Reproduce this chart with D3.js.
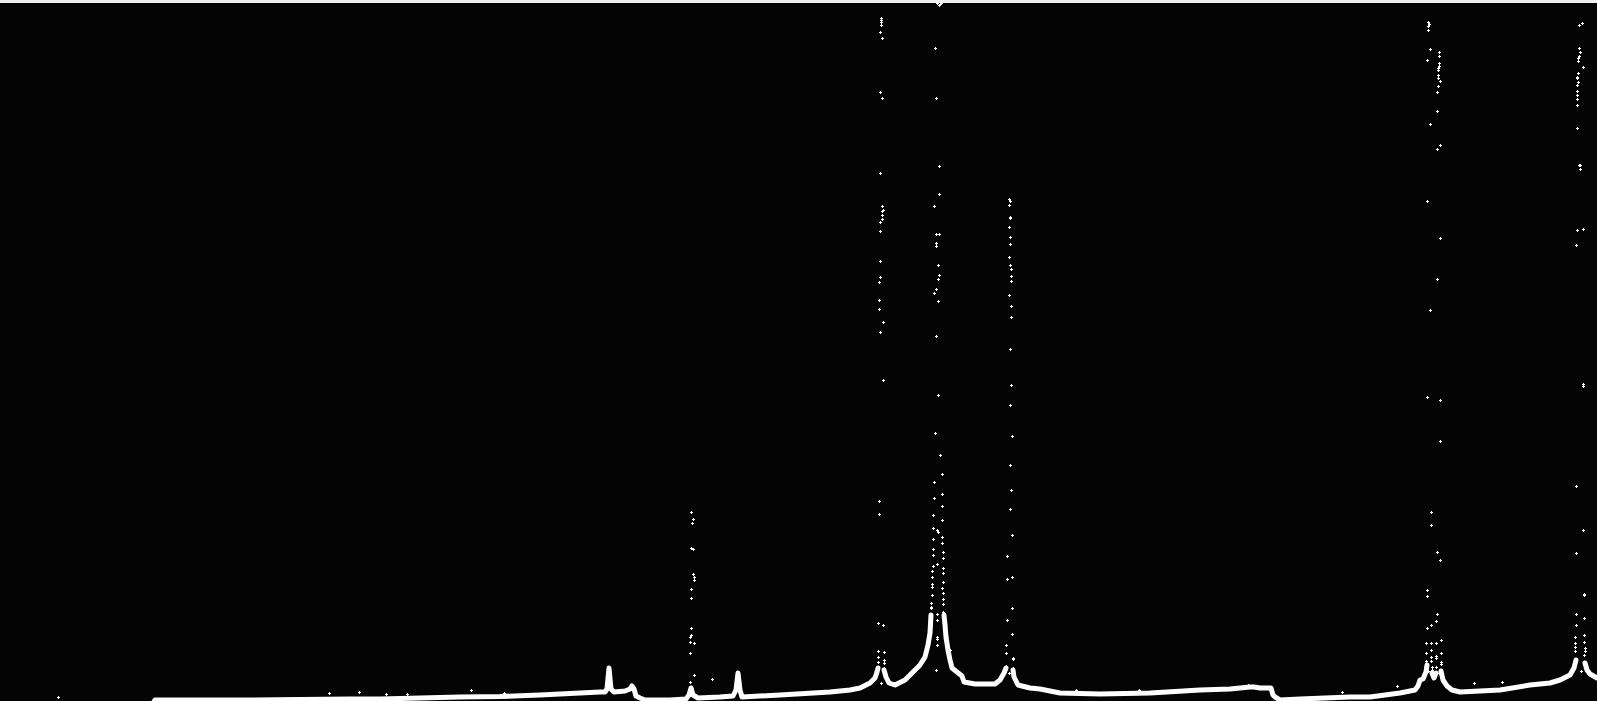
<!DOCTYPE html>
<html>
<head>
<meta charset="utf-8">
<script src="https://cdn.jsdelivr.net/npm/d3@7"></script>
<style>
  html, body { margin: 0; padding: 0; background: #efefef; overflow: hidden; }
  svg { display: block; }
</style>
</head>
<body>
<svg id="chart" width="1597" height="701"></svg>
<script>
// Continuous background trace (channel, counts); null = gap in the trace
const baseChannel = [0,150,155,200,250,300,350,380,420,460,500,540,560,580,600,605,607,609,611,614,625,630,632,634,636,640,645,670,686,689,691,693,698,720,733,736,738,740,742,780,830,850,860,870,875,877,878,880,
  884,886,889,895,905,915,920,925,928,930,931,938,
  944,945,946,948,950,952,962,964,975,995,1000,1004,1006,1010,
  1013,1014,1018,1030,1040,1060,1100,1150,1200,1230,1250,1254,1260,1271,1273,1275,1280,1300,1350,1370,1400,1415,1418,1420,1423,1426,1427,1429,
  1432,1434,1436,1438,1441,1443,1447,1452,1460,1500,1530,1550,1560,1570,1574,1576,1580,1585,1587,1590,1597];
const baseCounts = [-7,-7,1,1,1,1.5,2,2,3,4,4.5,6,7,8,9,9,12,33,12,9,10,12,15,12,5,3,1,1,2,6,13,6,3,4,5,11,28,11,4,6,9,11,13,18,23,29,33,null,
  31,24,18,16,21,31,36,44,56,68,86,null,
  86,76,64,51,41,33,25,19,17,17,21,28,33,null,
  31,24,16,13,12,8,7,8,11,12,14,14,13,13,6,4,1,2,4,4,8,11,15,21,22,29,36,null,
  28,23,28,null,30,21,15,11,9,11,16,18,21,26,33,41,null,38,31,27,23];

// Individual scattered readings (channel, counts)
const pointChannel = [
  58,329,329,333,359,386,407,471,504,712,1076,1139,1248,1342,1397,1474,1502,
  609,609,609,610,610,
  691,693,692,691,693,693,694,694,691,691,691,691,690,694,690,690,694,690,
  738,738,738,739,
  881,881,881,881,881,880,882,880,882,880,882,883,882,882,882,880,880,880,880,879,879,879,883,880,883,879,879,883,878,878,878,878,884,884,884,884,
  936,937,940,941,939,935,936,939,939,934,936,939,936,936,938,938,939,938,936,934,938,936,938,935,940,
  942,934,942,934,942,933,942,933,937,938,942,933,942,933,943,933,943,937,933,943,932,943,932,943,932,942,932,943,943,932,943,931,943,931,931,943,937,937,937,937,937,950,
  1009,1009,1010,1009,1010,1010,1009,1010,1010,1009,1010,1011,1011,1011,1009,1011,1011,
  1010,1011,1010,1012,1010,1011,1010,1012,1007,1012,1007,1012,1007,1012,1006,1006,1013,1013,1006,1013,
  1428,1428,1429,1428,1428,1430,1427,1430,1427,1430,1427,1431,1431,1427,1427,1431,1427,1431,1426,1431,1426,1431,1431,1426,1432,1432,
  1439,1439,1439,1439,1439,1438,1438,1438,1438,1440,1438,1437,1437,1440,1437,1440,1437,1440,1440,1437,1440,1437,1436,1441,1436,1441,1436,1436,1441,1441,1436,1441,
  1581,1582,1579,1579,1580,1579,1578,1578,1583,1577,1578,1577,1578,1577,1577,1577,1577,1577,1577,1580,1579,1580,1583,1577,
  1576,1583,1583,1576,1583,1576,1584,1584,1576,1584,1576,1584,1575,1575,1575,1575,1584,1584,1585,1585
];
const pointCounts = [
  4,8,3,3,9,7,7,11,8,22,11,11,16,9,15,18,19,
  33,30,27,23,19,
  189,182,178,153,152,127,124,121,112,103,73,66,64,58,59,48,26,19,13,
  28,25,22,18,
  683,681,679,676,669,663,609,603,528,495,491,490,486,482,479,470,440,424,419,401,392,379,369,321,200,187,76,78,50,44,39,33,49,41,38,31,
  698,697,698,696,653,603,535,507,495,467,467,458,455,436,436,426,422,412,408,400,365,306,268,246,227,
  219,207,203,195,186,181,173,171,169,164,162,158,152,149,146,143,137,135,133,130,128,124,119,117,113,114,108,108,106,102,98,97,94,93,89,87,81,64,62,56,51,28,
  502,500,496,483,484,474,464,457,444,436,432,425,420,406,395,384,352,
  316,296,265,236,211,192,166,145,124,122,93,81,67,56,48,43,42,35,33,30,
  679,677,675,671,652,641,577,500,391,304,189,176,111,105,76,73,58,58,51,48,40,44,40,31,34,28,
  649,645,638,635,633,631,626,623,620,615,609,590,556,552,463,422,301,260,149,141,87,80,61,58,48,45,43,37,39,34,30,30,
  678,676,653,649,645,643,640,634,624,628,623,619,616,610,606,602,596,573,536,536,532,472,471,456,
  315,317,215,171,148,107,106,87,83,76,66,64,58,54,50,46,59,53,50,44
];

const W = 1597, H = 701, TOP = 3;
const svg = d3.select("#chart");

const x = d3.scaleLinear().domain([0, 1597]).range([0, W]);
const y = d3.scaleLinear().domain([0, 701]).range([H, 0]);

svg.append("rect").attr("x", 0).attr("y", 0).attr("width", W).attr("height", TOP).attr("fill", "#efefef");
svg.append("rect").attr("x", 0).attr("y", TOP).attr("width", W).attr("height", H - TOP).attr("fill", "#040404");

const clip = svg.append("clipPath").attr("id", "plotclip");
clip.append("rect").attr("x", 0).attr("y", TOP).attr("width", W).attr("height", H - TOP);

const g = svg.append("g").attr("clip-path", "url(#plotclip)");

const base = baseChannel.map((c, i) => ({ c, v: baseCounts[i] }));
const line = d3.line()
  .defined(d => d.v !== null)
  .x(d => x(d.c))
  .y(d => y(d.v));

g.append("path")
  .datum(base)
  .attr("d", line)
  .attr("fill", "none")
  .attr("stroke", "#ffffff")
  .attr("stroke-width", 5)
  .attr("stroke-linejoin", "round")
  .attr("stroke-linecap", "round");

const pts = pointChannel.map((c, i) => ({ c, v: pointCounts[i] }));
g.selectAll("path.pt")
  .data(pts)
  .join("path")
  .attr("class", "pt")
  .attr("d", d => {
    const px = Math.round(x(d.c)) + 0.5, py = Math.round(y(d.v)) + 0.5;
    return `M${px - 1.5},${py}h3M${px},${py - 1.5}v3`;
  })
  .attr("fill", "none")
  .attr("stroke", "#ffffff")
  .attr("stroke-width", 1)
  .attr("shape-rendering", "crispEdges");
</script>
</body>
</html>
